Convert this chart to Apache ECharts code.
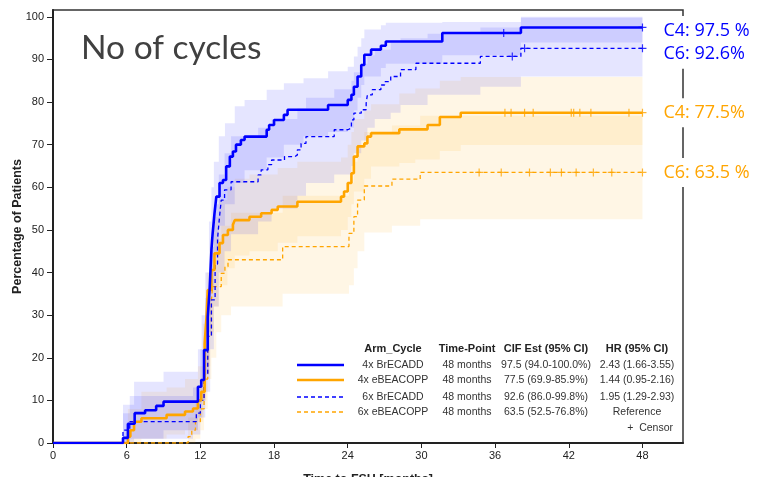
<!DOCTYPE html>
<html>
<head>
<meta charset="utf-8">
<script src="https://cdn.jsdelivr.net/npm/echarts@6/dist/echarts.min.js"></script>
<style>
  html, body { margin: 0; padding: 0; background: #fff; }
  #container { width: 770px; height: 477px; }
</style>
</head>
<body>
<div id="container"></div>
<script>
var dom = document.getElementById("container");
var myChart = echarts.init(dom);

// axis ticks
var xTicks = [0, 6, 12, 18, 24, 30, 36, 42, 48];
var yTicks = [0, 10, 20, 30, 40, 50, 60, 70, 80, 90, 100];

// table / legend text
var armNames = ["4x BrECADD", "4x eBEACOPP", "6x BrECADD", "6x eBEACOPP"];
var timePoints = ["48 months", "48 months", "48 months", "48 months"];
var cifEst = ["97.5 (94.0-100.0%)", "77.5 (69.9-85.9%)", "92.6 (86.0-99.8%)", "63.5 (52.5-76.8%)"];
var hrText = ["2.43 (1.66-3.55)", "1.44 (0.95-2.16)", "1.95 (1.29-2.93)", "Reference"];
var endLabels = ["C4: 97.5 %", "C4: 77.5%", "C6: 92.6%", "C6: 63.5 %"];

// cumulative incidence step curves [month, %]
var c4Brecadd = [[0,0],[5.7,1.2],[6.1,4.5],[6.65,7.0],[7.5,7.7],[8.4,8.7],[9.0,9.7],[11.8,13.2],[12.07,14.8],
  [12.3,21.8],[12.6,29.6],[12.75,35.9],[12.9,45.3],[13.0,49.2],[13.15,53.9],[13.3,57.8],[13.56,61],[13.84,61.7],
  [14.1,64.9],[14.4,67.2],[14.65,68.4],[14.9,70],[15.3,71.1],[15.6,71.9],[17.4,73.5],[17.6,74.6],[18.0,75.8],
  [18.8,77],[19.1,78.2],[22.4,79.3],[24.0,80.5],[24.3,81.7],[24.5,83.6],[24.8,86],[25.1,88.7],[25.35,91.1],
  [25.9,92.3],[26.7,93.2],[27.1,94.2],[31.7,96.2],[38.1,97.5],[48,97.5]];
var c4Ebeacopp = [[0,0],[6.1,1.5],[6.3,3],[6.6,5.0],[7.2,5.8],[9.25,6.6],[10.75,7.4],[11.4,8.1],[11.8,10],
  [12.07,12],[12.35,23.4],[12.5,29.6],[12.6,35.9],[12.9,40.6],[13.15,44.5],[13.56,46.9],[13.84,48.8],[14.24,50],
  [14.65,51.2],[14.8,52.3],[16.0,53.1],[16.95,53.9],[17.8,54.7],[18.3,55.5],[19.9,56.6],[23.45,57.8],[23.7,59],
  [24.0,61],[24.3,63.3],[24.5,67.2],[24.8,69.6],[25.35,70.3],[25.6,71.9],[25.9,72.7],[28.2,73.6],[30.5,74.6],
  [31.5,76.5],[33.2,77.5],[48,77.5]];
var c6Brecadd = [[0,0],[5.7,3.0],[6.25,5.0],[11.67,7],[12.0,10],[12.3,16],[12.6,25],[12.9,33.6],[13.2,42],
  [13.4,48],[13.56,53.1],[13.7,57.0],[13.97,59.4],[14.5,61.3],[16.7,62.9],[16.95,64.1],[17.5,65.3],[17.8,66.4],
  [18.85,67.2],[19.7,67.6],[19.9,68.8],[20.2,70.3],[20.6,71.9],[22.9,73.5],[24.0,73.9],[24.3,75.8],[24.5,77.4],
  [25.1,78.2],[25.5,79.7],[25.6,81.7],[26.0,82.9],[26.7,84],[27.0,84.8],[27.5,86],[28.3,87.6],[29.55,89.1],
  [34.8,90.7],[38.1,92.6],[48,92.6]];
var c6Ebeacopp = [[0,0],[11.0,1.5],[11.3,3],[11.6,5],[12.0,8],[12.3,15],[12.6,25],[12.9,33.6],[13.0,36.7],
  [13.7,39.8],[14.0,41.4],[14.25,43.0],[18.7,46.1],[24.1,49.2],[24.5,53.1],[24.8,57],[25.35,60.3],[27.6,61.9],
  [29.9,63.5],[48,63.5]];

// censor marks [month, %]
var cens4Brecadd = [[36.7,96.2],[48,97.5]];
var cens6Brecadd = [[37.4,90.7],[38.4,92.6],[48,92.6]];
var cens4Ebeacopp = [[36.8,77.5],[37.3,77.5],[38.4,77.5],[39.1,77.5],[42.2,77.5],[42.4,77.5],[42.9,77.5],[43.8,77.5],[46.9,77.5],[48,77.5]];
var cens6Ebeacopp = [[34.7,63.5],[36.5,63.5],[38.8,63.5],[40.5,63.5],[41.4,63.5],[42.6,63.5],[44.0,63.5],[45.5,63.5],[48,63.5]];

// 95% CI bands, step segments [start month, lower %, upper %] (each holds until the next one, last until 48)
var band4Brecadd = [[5.7,0,9],[6.6,1,14.4],[9.0,3,16.7],[11.8,6,22],[12.1,10,30],[12.4,16,40],[12.7,26,52],
  [12.9,36,60],[13.1,44,66],[13.5,51,72],[14.0,56,75],[14.8,61,79],[15.6,64,80.5],[17.4,67,82.9],[18.8,70,84.4],
  [20.4,72,85.6],[22.4,73,87.2],[24.0,74,88.3],[24.5,78,90.7],[24.8,81,93],[25.1,84,95],[25.35,86,97],
  [26.7,88,98],[27.1,89,98.6],[31.7,91,98.8],[38.1,94,100]];
var band6Brecadd = [[5.7,0,7],[6.25,1,11],[11.4,2,13],[12.0,6,22],[12.4,12,34],[12.8,22,46],[13.1,32,56],
  [13.5,40,63],[13.97,45,68],[14.5,49,72],[16.7,52,74],[17.8,55,76],[19.9,58,78.5],[20.6,61,81],[22.9,63,83],
  [24.3,65,85],[24.5,68,87],[25.1,71,89],[25.6,74,91],[26.2,76,92.3],[27.5,77.5,94],[28.3,79.3,95],
  [30.5,81.7,96],[34.8,83.6,97.5],[38.1,86,99.8]];
var band4Ebeacopp = [[6.1,0,8],[7.2,1,12],[9.25,2,13],[10.75,3,15],[11.8,5,18],[12.2,10,28],[12.5,18,40],
  [12.8,26,48],[13.1,32,53],[13.5,37,57],[14.2,41,60],[14.8,44,62],[16.0,45,63],[18.3,47,64.5],[19.9,48.5,66],
  [23.45,50,67],[24.0,53,70],[24.3,56,73],[24.5,59,76],[25.35,62,78],[25.9,64.9,79.5],[28.2,65.7,82],
  [29.5,66.5,83.2],[31.5,68.5,85],[33.2,69.9,85.9]];
var band6Ebeacopp = [[11.0,0,6],[11.6,1,10],[12.0,3,15],[12.3,8,24],[12.6,15,34],[12.9,20,43],[13.3,26,48],
  [13.7,30,51],[14.5,32,54],[18.7,35,58],[24.1,37,61],[24.5,41,66],[24.8,45,70],[25.35,49.4,73],[27.6,51,74.5],
  [29.9,52.5,76.8]];

var BLUE = "rgb(0,0,255)";
var ORANGE = "rgb(255,165,0)";
var FONT = "Liberation Sans";
var END_X = 48;

function bandSeries(band, fill) {
  return {
    type: "custom",
    silent: true,
    clip: true,
    z: 1,
    data: [[0, 0]],
    renderItem: function (params, api) {
      var upper = [], lower = [];
      for (var i = 0; i < band.length; i++) {
        var x0 = band[i][0];
        var x1 = i + 1 < band.length ? band[i + 1][0] : END_X;
        upper.push(api.coord([x0, band[i][2]]), api.coord([x1, band[i][2]]));
        lower.push(api.coord([x0, band[i][1]]), api.coord([x1, band[i][1]]));
      }
      return {
        type: "polygon",
        shape: { points: upper.concat(lower.reverse()) },
        style: { fill: fill }
      };
    }
  };
}

function curveSeries(name, data, color, dashed, label, offsetY) {
  return {
    name: name,
    type: "line",
    step: "end",
    data: data,
    showSymbol: false,
    z: dashed ? 3 : 4,
    lineStyle: { color: color, width: dashed ? 1.3 : 2.6, type: dashed ? [4, 3] : "solid" },
    endLabel: {
      show: true,
      formatter: label,
      color: color,
      fontFamily: "Open Sans",
      fontSize: 18,
      distance: 19,
      offset: [0, offsetY],
      backgroundColor: "#fff",
      padding: [6, 4, 5, 2]
    }
  };
}

function censorSeries(data, color) {
  return {
    type: "scatter",
    data: data,
    symbol: "path://M0,4L8,4M4,0L4,8",
    symbolSize: 8,
    z: 5,
    silent: true,
    itemStyle: { color: "rgba(0,0,0,0)", borderColor: color, borderWidth: 1.2 }
  };
}

// legend table
var rowsY = [365, 380, 397, 412];
var lineStyles = [
  { stroke: BLUE, lineWidth: 2.6 },
  { stroke: ORANGE, lineWidth: 2.6 },
  { stroke: BLUE, lineWidth: 1.3, lineDash: [4, 3] },
  { stroke: ORANGE, lineWidth: 1.3, lineDash: [4, 3] }
];
var colX = [393, 467, 546, 637];
var headers = ["Arm_Cycle", "Time-Point", "CIF Est (95% CI)", "HR (95% CI)"];
var graphics = [];
headers.forEach(function (h, i) {
  graphics.push({ type: "text", x: colX[i], y: 349,
    style: { text: h, fill: "#222", font: 'bold 11px "' + FONT + '"', align: "center", verticalAlign: "middle" } });
});
armNames.forEach(function (n, i) {
  graphics.push({ type: "line", shape: { x1: 297, y1: rowsY[i], x2: 344, y2: rowsY[i] }, style: lineStyles[i] });
  [n, timePoints[i], cifEst[i], hrText[i]].forEach(function (t, j) {
    graphics.push({ type: "text", x: colX[j], y: rowsY[i],
      style: { text: t, fill: "#333", font: '10.5px "' + FONT + '"', align: "center", verticalAlign: "middle" } });
  });
});
graphics.push({ type: "text", x: 673, y: 428,
  style: { text: "+  Censor", fill: "#333", font: '10.5px "' + FONT + '"', align: "right", verticalAlign: "middle" } });

option = {
  animation: false,
  backgroundColor: "#fff",
  title: {
    text: "No of cycles",
    left: 76,
    top: 26,
    textStyle: { fontFamily: "Lato", fontSize: 33.5, fontWeight: "normal", color: "#404040" }
  },
  grid: { left: 53, right: 87, top: 10, bottom: 34, show: true, borderColor: "#333", borderWidth: 1.5, outerBoundsMode: "none" },
  xAxis: {
    type: "value",
    min: 0,
    max: 51.3,
    name: "Time to FSH [months]",
    nameLocation: "middle",
    nameGap: 30,
    nameMoveOverlap: false,
    nameTextStyle: { fontFamily: FONT, fontWeight: "bold", fontSize: 12.5, color: "#222" },
    axisLine: { onZero: false, lineStyle: { color: "#222", width: 2 } },
    axisTick: { customValues: xTicks, length: 5, lineStyle: { color: "#222" } },
    axisLabel: { customValues: xTicks, color: "#222", fontFamily: FONT, fontSize: 11, margin: 7 },
    splitLine: { show: false }
  },
  yAxis: {
    type: "value",
    min: 0,
    max: 101.6,
    name: "Percentage of Patients",
    nameLocation: "middle",
    nameGap: 29,
    nameMoveOverlap: false,
    nameTextStyle: { fontFamily: FONT, fontWeight: "bold", fontSize: 12.5, color: "#222" },
    axisLine: { onZero: false, lineStyle: { color: "#222", width: 2 } },
    axisTick: { customValues: yTicks, length: 6, lineStyle: { color: "#222" } },
    axisLabel: { customValues: yTicks, color: "#222", fontFamily: FONT, fontSize: 11, margin: 9 },
    splitLine: { show: false }
  },
  graphic: graphics,
  series: [
    bandSeries(band6Ebeacopp, "rgba(255,165,0,0.1)"),
    bandSeries(band4Ebeacopp, "rgba(255,165,0,0.1)"),
    bandSeries(band6Brecadd, "rgba(0,0,255,0.1)"),
    bandSeries(band4Brecadd, "rgba(0,0,255,0.1)"),
    curveSeries(armNames[3], c6Ebeacopp, ORANGE, true, endLabels[3], 0),
    curveSeries(armNames[2], c6Brecadd, BLUE, true, endLabels[2], 6),
    curveSeries(armNames[1], c4Ebeacopp, ORANGE, false, endLabels[1], 0),
    curveSeries(armNames[0], c4Brecadd, BLUE, false, endLabels[0], 3),
    censorSeries(cens6Ebeacopp, ORANGE),
    censorSeries(cens4Ebeacopp, ORANGE),
    censorSeries(cens6Brecadd, BLUE),
    censorSeries(cens4Brecadd, BLUE)
  ]
};
if (option && typeof option === "object") {
  myChart.setOption(option, true);
}
</script>
</body>
</html>
